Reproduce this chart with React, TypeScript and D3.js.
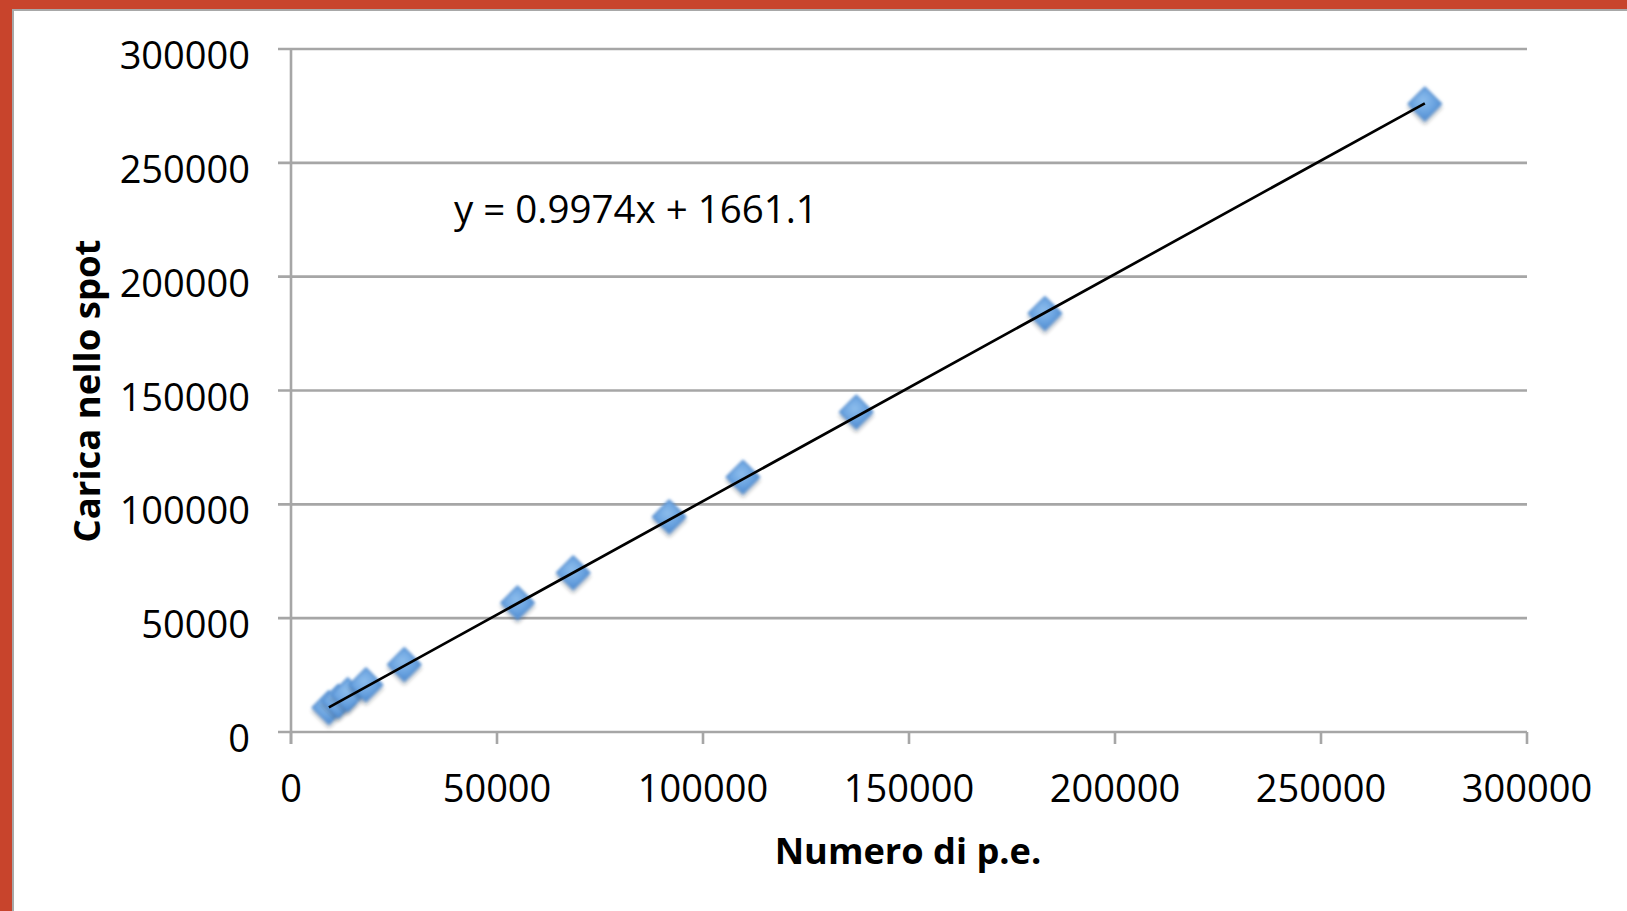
import React from "react";
import * as d3 from "d3";

// Measured points: photoelectron count vs. charge collected in the spot
const numeroPE = [9200, 11500, 13800, 18200, 27500, 55000, 68500, 91800, 109700, 137200, 183000, 275200];
const caricaSpot = [10800, 13600, 16500, 20800, 29700, 56800, 70000, 94600, 112000, 140600, 183900, 275900];

// Linear fit shown on the chart
const fitSlope = 0.9974;
const fitIntercept = 1661.1;
const fitLabel = "y = 0.9974x + 1661.1";

const xTicks = [0, 50000, 100000, 150000, 200000, 250000, 300000];
const yTicks = [0, 50000, 100000, 150000, 200000, 250000, 300000];

const xTitle = "Numero di p.e.";
const yTitle = "Carica nello spot";

const W = 1627;
const H = 911;

export default function App() {
  const x = d3.scaleLinear().domain([0, 300000]).range([291, 1527]);
  const y = d3.scaleLinear().domain([0, 300000]).range([732, 49]);

  const xMin = d3.min(numeroPE) as number;
  const xMax = d3.max(numeroPE) as number;
  const fit = (v: number) => fitSlope * v + fitIntercept;
  const trend = d3.line<number>().x((v) => x(v)).y((v) => y(fit(v)));

  const r = 16.5;
  const diamond = `M0,${-r} L${r},0 L0,${r} L${-r},0 Z`;
  const font = "'Open Sans', sans-serif";
  const grid = "#a6a6a6";

  return (
    <svg
      width={W}
      height={H}
      style={{ position: "fixed", left: 0, top: 0, display: "block" }}
    >
      <defs>
        <radialGradient id="mk" cx="0.45" cy="0.4" r="0.6">
          <stop offset="0" stopColor="#8dbdec" />
          <stop offset="0.6" stopColor="#6aa3e0" />
          <stop offset="1" stopColor="#4f8bd0" />
        </radialGradient>
        <filter id="soft" x="-50%" y="-50%" width="200%" height="200%">
          <feGaussianBlur in="SourceAlpha" stdDeviation="2.2" result="b" />
          <feOffset in="b" dy="3" result="o" />
          <feComponentTransfer in="o" result="s">
            <feFuncA type="linear" slope="0.35" />
          </feComponentTransfer>
          <feGaussianBlur in="SourceGraphic" stdDeviation="1.4" result="g" />
          <feMerge>
            <feMergeNode in="s" />
            <feMergeNode in="g" />
          </feMerge>
        </filter>
      </defs>

      {/* slide frame */}
      <rect x={0} y={0} width={W} height={H} fill="#c8442c" />
      <rect x={12} y={9} width={W - 12} height={H - 9} fill="#a8a8a8" />
      <rect x={14} y={11} width={W - 14} height={H - 11} fill="#ffffff" />

      {/* horizontal gridlines */}
      {yTicks.map((t) => (
        <line
          key={"g" + t}
          x1={278}
          x2={1527}
          y1={y(t)}
          y2={y(t)}
          stroke={grid}
          strokeWidth={2.6}
        />
      ))}

      {/* y axis */}
      <line x1={291} x2={291} y1={y(300000)} y2={744} stroke={grid} strokeWidth={2.6} />
      {/* x axis ticks */}
      {xTicks.map((t) => (
        <line
          key={"xt" + t}
          x1={x(t)}
          x2={x(t)}
          y1={732}
          y2={744}
          stroke={grid}
          strokeWidth={2.6}
        />
      ))}

      {/* tick labels */}
      {yTicks.map((t) => (
        <text
          key={"yl" + t}
          x={250}
          y={y(t) + 20}
          textAnchor="end"
          fontFamily={font}
          fontSize={38}
          fill="#000"
        >
          {t}
        </text>
      ))}
      {xTicks.map((t) => (
        <text
          key={"xl" + t}
          x={x(t)}
          y={802}
          textAnchor="middle"
          fontFamily={font}
          fontSize={38}
          fill="#000"
        >
          {t}
        </text>
      ))}

      {/* markers */}
      {numeroPE.map((v, i) => (
        <path
          key={"m" + i}
          d={diamond}
          transform={`translate(${x(v)},${y(caricaSpot[i])})`}
          fill="url(#mk)"
          stroke="#5590d3"
          strokeWidth={1.5}
          filter="url(#soft)"
        />
      ))}

      {/* trend line */}
      <path d={trend([xMin, xMax]) as string} fill="none" stroke="#000" strokeWidth={2.7} />

      {/* fit equation */}
      <text x={454} y={223} fontFamily={font} fontSize={38.5} fill="#000">
        {fitLabel}
      </text>

      {/* axis titles */}
      <text
        x={908}
        y={864}
        textAnchor="middle"
        fontFamily={font}
        fontWeight="bold"
        fontSize={36.2}
        fill="#000"
      >
        {xTitle}
      </text>
      <text
        transform={`translate(100,391) rotate(-90)`}
        textAnchor="middle"
        fontFamily={font}
        fontWeight="bold"
        fontSize={36.5}
        fill="#000"
      >
        {yTitle}
      </text>
    </svg>
  );
}
